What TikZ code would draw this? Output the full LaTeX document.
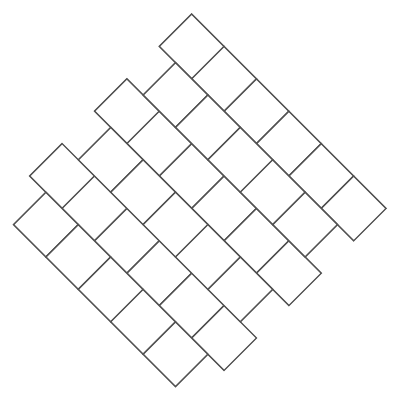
\documentclass[tikz,border=0pt]{standalone}
\begin{document}
\begin{tikzpicture}[x=1pt,y=1pt,
  tile/.style={draw=black!68,line width=1.4pt,line join=miter,fill=white}]
\useasboundingbox (0,0) rectangle (400,400);
\begin{scope}[shift={(191.7,386)},x={(32.4pt,-32.4pt)},y={(-32.4pt,-32.4pt)}]
  \foreach \k in {0,2,4}{
    \foreach \a in {0,...,5}{
      \draw[tile] (\a,\k) -- ++(1,0) -- ++(0,1) -- ++(-1,0) -- cycle;
    }
  }
  \foreach \k in {1,3,5}{
    \foreach \a in {0,...,4}{
      \draw[tile] (\a+0.5,\k) -- ++(1,0) -- ++(0,1) -- ++(-1,0) -- cycle;
    }
  }
\end{scope}
\end{tikzpicture}
\end{document}
